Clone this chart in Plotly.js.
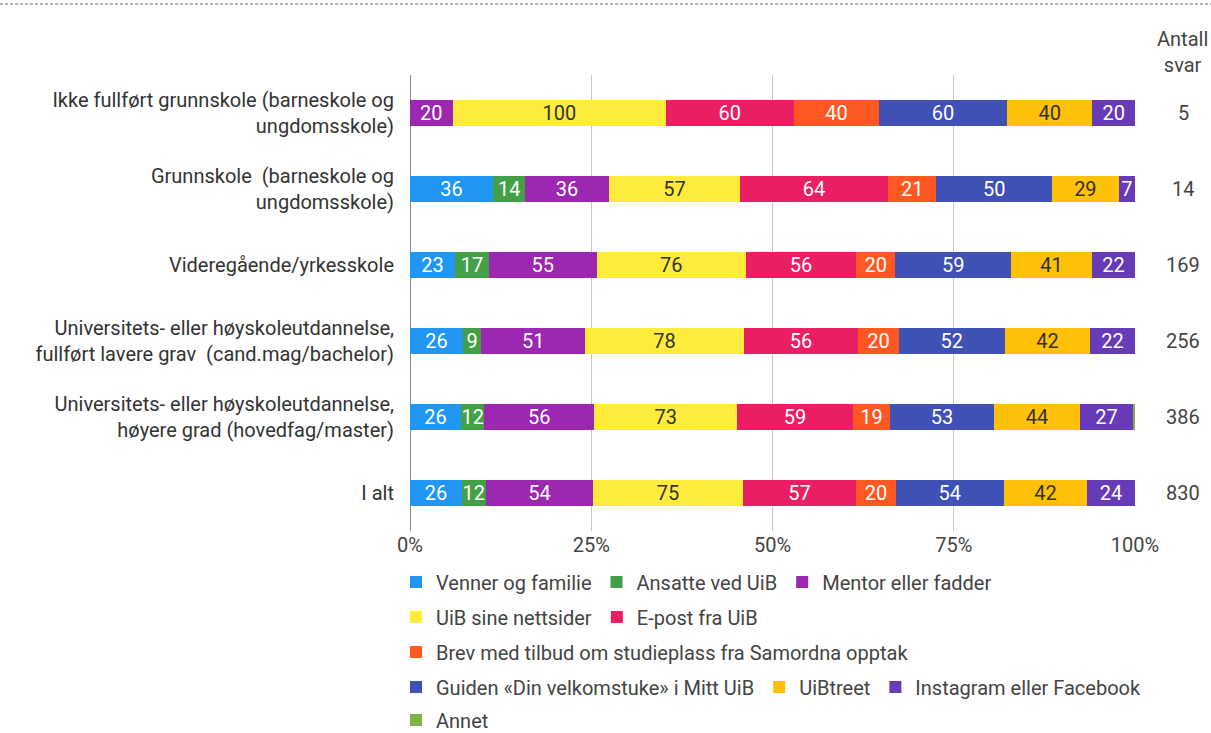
<!DOCTYPE html>
<html>
<head>
<meta charset="utf-8">
<script src="https://cdn.plot.ly/plotly-3.0.1.min.js"></script>
<style>
  html, body { margin: 0; padding: 0; background: #ffffff; }
  #chart { width: 1211px; height: 733px; }
</style>
</head>
<body>
<div id="chart"></div>
<script>
// Categories (top to bottom)
const categories = [
  "Ikke fullført grunnskole (barneskole og<br>ungdomsskole)",
  "Grunnskole \u00A0(barneskole og<br>ungdomsskole)",
  "Videregående/yrkesskole",
  "Universitets- eller høyskoleutdannelse,<br>fullført lavere grav \u00A0(cand.mag/bachelor)",
  "Universitets- eller høyskoleutdannelse,<br>høyere grad (hovedfag/master)",
  "I alt"
];
const antallSvar = [5, 14, 169, 256, 386, 830];

// Series values (percent answering, per category)
const venner     = [0, 36, 23, 26, 26, 26];
const ansatte    = [0, 14, 17, 9, 12, 12];
const mentor     = [20, 36, 55, 51, 56, 54];
const nettsider  = [100, 57, 76, 78, 73, 75];
const epost      = [60, 64, 56, 56, 59, 57];
const brev       = [40, 21, 20, 20, 19, 20];
const guiden     = [60, 50, 59, 52, 53, 54];
const uibtreet   = [40, 29, 41, 42, 44, 42];
const instagram  = [20, 7, 22, 22, 27, 24];
const annet      = [0, 0, 0, 0, 1, 0];

const seriesNames = [
  "Venner og familie", "Ansatte ved UiB", "Mentor eller fadder",
  "UiB sine nettsider", "E-post fra UiB",
  "Brev med tilbud om studieplass fra Samordna opptak",
  "Guiden «Din velkomstuke» i Mitt UiB", "UiBtreet", "Instagram eller Facebook",
  "Annet"
];
const seriesValues = [venner, ansatte, mentor, nettsider, epost, brev, guiden, uibtreet, instagram, annet];
const colors = ["#2196F3", "#43A047", "#9C27B0", "#FFEB3B", "#E91E63", "#FF5722", "#3F51B5", "#FFC107", "#673AB7", "#7CB342"];
const textColors = ["#ffffff", "#ffffff", "#ffffff", "#333333", "#ffffff", "#ffffff", "#ffffff", "#333333", "#ffffff", "#ffffff"];
const legendGroups = ["legend", "legend", "legend", "legend2", "legend2", "legend3", "legend4", "legend4", "legend4", "legend5"];

const FONT = "Roboto, 'Noto Sans', sans-serif";
const FS = 20;

const traces = seriesNames.map((name, i) => ({
  type: "bar",
  orientation: "h",
  name: name,
  y: categories,
  x: seriesValues[i],
  text: seriesValues[i].map(v => v >= 3 ? String(v) : ""),
  textposition: "inside",
  insidetextanchor: "middle",
  constraintext: "none",
  textangle: 0,
  insidetextfont: { family: FONT, size: FS, color: textColors[i] },
  marker: { color: colors[i], line: { width: 0 } },
  legend: legendGroups[i],
  hoverinfo: "skip"
}));

// Geometry helpers (pixel -> paper) based on margins
const L = 410, R = 76, T = 75, B = 202, W = 1211, H = 733;
const pw = W - L - R, ph = H - T - B;
const px = x => (x - L) / pw;
const py = y => (H - B - y) / ph;

const legendBase = {
  orientation: "h",
  xanchor: "left",
  yanchor: "middle",
  x: px(396),
  font: { family: FONT, size: FS, color: "#444" },
  bgcolor: "rgba(0,0,0,0)",
  traceorder: "normal",
  itemclick: false,
  itemdoubleclick: false
};

const annotations = categories.map((c, i) => ({
  xref: "paper", yref: "y",
  x: px(1183), y: c,
  text: String(antallSvar[i]),
  showarrow: false,
  xanchor: "center",
  font: { family: FONT, size: FS, color: "#444" }
}));
annotations.push({
  xref: "paper", yref: "paper",
  x: px(1182), y: py(52),
  text: "Antall<br>svar",
  showarrow: false,
  xanchor: "center", yanchor: "middle",
  font: { family: FONT, size: FS, color: "#444" }
});

const layout = {
  width: W, height: H,
  margin: { l: L, r: R, t: T, b: B, pad: 0, autoexpand: false },
  barmode: "stack",
  barnorm: "percent",
  bargap: 0.66,
  paper_bgcolor: "#ffffff",
  plot_bgcolor: "#ffffff",
  font: { family: FONT, size: FS, color: "#444" },
  showlegend: true,
  xaxis: {
    range: [0, 100],
    tickvals: [0, 25, 50, 75, 100],
    ticktext: ["0%", "25%", "50%", "75%", "100%"],
    showgrid: true,
    gridcolor: "#c8c8c8",
    gridwidth: 1,
    zeroline: true,
    zerolinecolor: "#888",
    zerolinewidth: 1,
    showline: false,
    ticks: "",
    tickfont: { family: FONT, size: FS, color: "#444" },
    fixedrange: true
  },
  yaxis: {
    autorange: "reversed",
    showgrid: false,
    zeroline: false,
    showline: false,
    ticks: "outside",
    ticklen: 11,
    tickcolor: "rgba(0,0,0,0)",
    tickfont: { family: FONT, size: FS, color: "#333" },
    fixedrange: true
  },
  legend:  Object.assign({}, legendBase, { y: py(582) }),
  legend2: Object.assign({}, legendBase, { y: py(617) }),
  legend3: Object.assign({}, legendBase, { y: py(652) }),
  legend4: Object.assign({}, legendBase, { y: py(687) }),
  legend5: Object.assign({}, legendBase, { y: py(720) }),
  annotations: annotations,
  shapes: [{
    type: "line", xref: "paper", yref: "paper",
    x0: px(0), x1: px(W), y0: py(4), y1: py(4),
    line: { color: "#666", width: 1, dash: "3px,2px" }
  }]
};

Plotly.newPlot("chart", traces, layout, { displayModeBar: false, staticPlot: true });
</script>
</body>
</html>
